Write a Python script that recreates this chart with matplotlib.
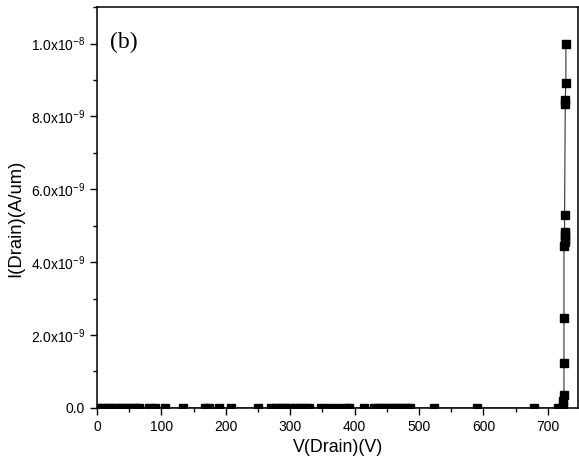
import numpy as np
import matplotlib
matplotlib.use('Agg')
import matplotlib.pyplot as plt
from matplotlib.ticker import MultipleLocator, FixedLocator

plt.rcParams['font.family'] = ['Liberation Sans', 'DejaVu Sans']
plt.rcParams['mathtext.fontset'] = 'custom'
plt.rcParams['mathtext.rm'] = 'Liberation Sans'

# off-state drain sweep: flat leakage, then breakdown near 725 V
v_drain = [2, 8, 15, 22, 30, 38, 45, 52, 60, 66, 80, 90, 106, 134, 168, 174, 189, 208,
           250, 270, 278, 285, 292, 300, 307, 315, 322, 329, 348, 358, 371, 385, 392,
           414, 430, 437, 444, 451, 458, 465, 472, 479, 486, 524, 590, 678, 715,
           724, 724, 725, 725, 725, 725, 726, 726, 726, 726, 726, 727, 727, 728, 728]
i_drain = [0.0] * 47 + [0.05e-9, 0.2e-9, 0.35e-9, 1.22e-9, 2.48e-9, 4.45e-9, 4.55e-9,
                        4.65e-9, 4.75e-9, 4.82e-9, 5.3e-9, 8.35e-9, 8.45e-9, 8.93e-9, 1.0e-8]

ytick_vals = [0, 2e-9, 4e-9, 6e-9, 8e-9, 1e-8]
ytick_text = ['0.0', '2.0x10$^{-9}$', '4.0x10$^{-9}$', '6.0x10$^{-9}$',
              '8.0x10$^{-9}$', '1.0x10$^{-8}$']

fig = plt.figure(figsize=(5.79, 4.76), dpi=100)
ax = fig.add_axes([0.1675, 0.143, 0.831, 0.842])

ax.plot(v_drain, i_drain, color='#333333', lw=0.8, marker='s', ms=5.5,
        mfc='black', mec='black', clip_on=True)

ax.set_xlim(0, 747)
ax.set_ylim(0, 1.1e-8)
ax.xaxis.set_major_locator(MultipleLocator(100))
ax.xaxis.set_minor_locator(MultipleLocator(50))
ax.yaxis.set_major_locator(FixedLocator(ytick_vals))
ax.set_yticklabels(ytick_text)
ax.yaxis.set_minor_locator(MultipleLocator(1e-9))
ax.tick_params(which='major', direction='out', length=5, width=1, labelsize=10)
ax.tick_params(which='minor', direction='out', length=3, width=1)
for s in ax.spines.values():
    s.set_linewidth(1.1)

ax.set_xlabel('V(Drain)(V)', fontsize=12.8, labelpad=4)
ax.set_ylabel('I(Drain)(A/um)', fontsize=13.3)
ax.yaxis.set_label_coords(-0.152, 0.474)
ax.text(0.027, 0.912, '(b)', transform=ax.transAxes, fontsize=17,
        family='Liberation Serif', va='center', ha='left')

fig.savefig('out.png', dpi=100)
